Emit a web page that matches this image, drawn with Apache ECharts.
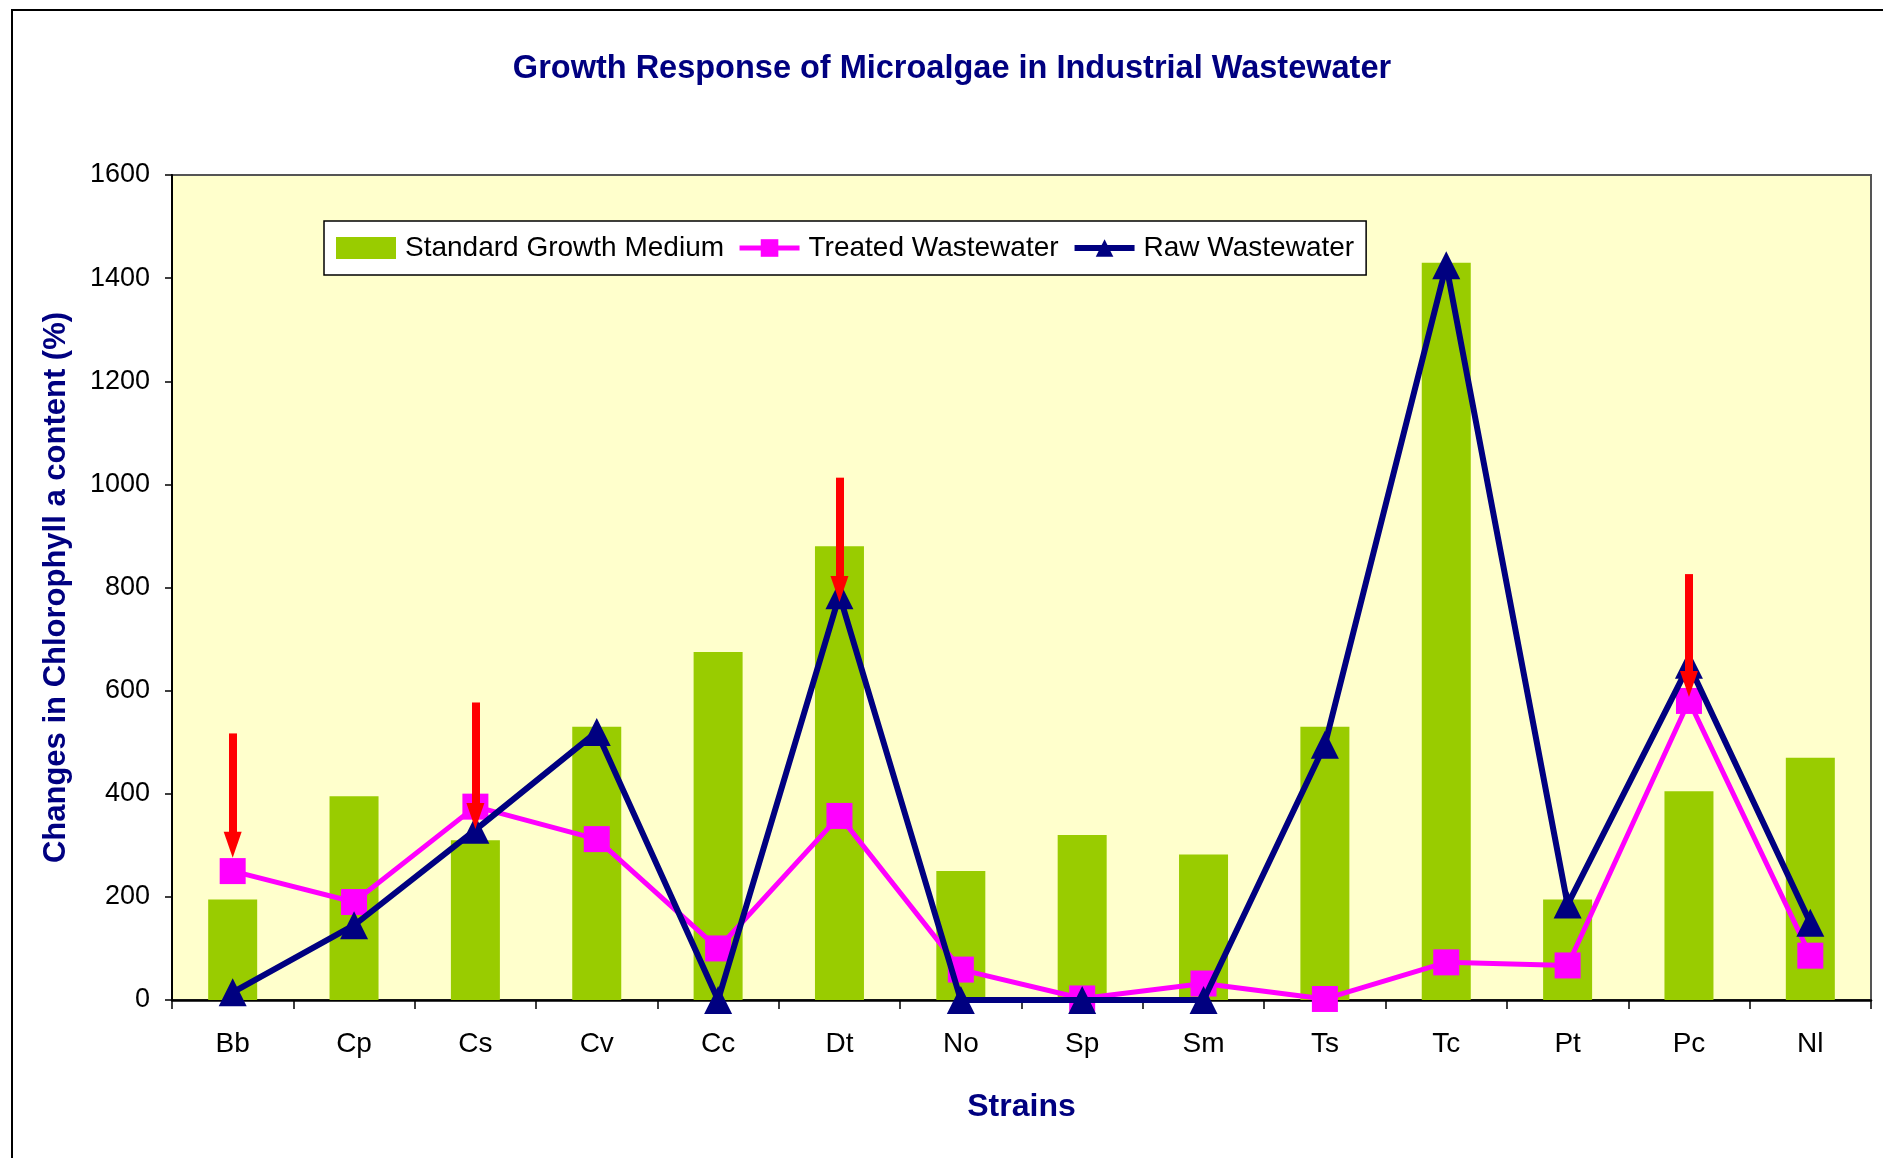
<!DOCTYPE html>
<html>
<head>
<meta charset="utf-8">
<title>Growth Response of Microalgae in Industrial Wastewater</title>
<script src="https://cdn.jsdelivr.net/npm/echarts@6/dist/echarts.min.js"></script>
<style>
  html, body { margin: 0; padding: 0; background: #fff; }
  #chart { width: 1883px; height: 1158px; }
</style>
</head>
<body>
<div id="chart"></div>
<script>
// strains on the x axis
const strains = ["Bb", "Cp", "Cs", "Cv", "Cc", "Dt", "No", "Sp", "Sm", "Ts", "Tc", "Pt", "Pc", "Nl"];

// changes in chlorophyll a content (%)
const standardMedium = [195, 395, 310, 530, 675, 880, 250, 320, 282, 530, 1430, 195, 405, 470];
const treatedWater = [250, 190, 375, 312, 100, 357, 59, 3, 32, 2, 73, 67, 580, 86];
const rawWater = [15, 145, 330, 520, 0, 785, 0, 0, 0, 495, 1425, 185, 650, 150];

// red arrows: strain, value where the arrow starts, value at its tip
const arrowStrains = ["Bb", "Cs", "Dt", "Pc"];
const arrowFrom = [517, 577, 1013, 826];
const arrowTo = [301, 357, 797, 613];

const navy = "#000080";
const font = "Liberation Sans, Arial, sans-serif";

const chart = echarts.init(document.getElementById("chart"), null, { renderer: "canvas" });

const arrowLines = arrowStrains.map((s, i) => [
  { coord: [s, arrowFrom[i]] },
  { coord: [s, arrowTo[i]] },
]);

const option = {
  animation: false,
  backgroundColor: "#fff",
  textStyle: { fontFamily: font },
  title: {
    text: "Growth Response of Microalgae in Industrial Wastewater",
    left: 947,
    top: 48,
    textAlign: "center",
    textStyle: { color: navy, fontSize: 32.5, fontWeight: "bold", fontFamily: font },
  },
  // outer chart frame, cropped on the right and bottom
  graphic: [
    {
      type: "rect",
      shape: { x: 12, y: 10, width: 1900, height: 1200 },
      style: { fill: "none", stroke: "#000", lineWidth: 2 },
      silent: true,
    },
  ],
  legend: {
    data: [
      { name: "Standard Growth Medium", icon: "rect" },
      { name: "Treated Wastewater", lineStyle: { width: 5 } },
      { name: "Raw Wastewater", lineStyle: { width: 6 } },
    ],
    left: 324,
    top: 221,
    orient: "horizontal",
    padding: [13, 12, 13, 12],
    itemGap: 13,
    itemWidth: 60,
    itemHeight: 22,
    backgroundColor: "#fff",
    borderColor: "#000",
    borderWidth: 1.5,
    textStyle: { color: "#000", fontSize: 28, fontFamily: font, padding: [0, 0, 0, 4] },
  },
  grid: {
    left: 172,
    right: 12,
    top: 175,
    bottom: 158,
    show: true,
    backgroundColor: "#FFFFCC",
    borderColor: "#555",
    borderWidth: 2,
  },
  xAxis: {
    type: "category",
    data: strains,
    name: "Strains",
    nameLocation: "middle",
    nameGap: 91,
    nameTextStyle: { color: navy, fontSize: 32, fontWeight: "bold", fontFamily: font },
    axisLine: { lineStyle: { color: "#000", width: 2.5 } },
    axisTick: { show: true, length: 9, interval: 0, lineStyle: { color: "#000", width: 1.5 } },
    axisLabel: { color: "#000", fontSize: 28, margin: 30, interval: 0, fontFamily: font },
  },
  yAxis: {
    type: "value",
    min: 0,
    max: 1600,
    interval: 200,
    name: "Changes in Chlorophyll a content (%)",
    nameLocation: "middle",
    nameGap: 100,
    nameTextStyle: { color: navy, fontSize: 31, fontWeight: "bold", fontFamily: font },
    axisLine: { show: true, lineStyle: { color: "#000", width: 2 } },
    axisTick: { show: true, length: 7, lineStyle: { color: "#000", width: 1.5 } },
    axisLabel: { color: "#000", fontSize: 27, margin: 22, fontFamily: font, formatter: (v) => String(v) },
    splitLine: { show: false },
  },
  series: [
    {
      name: "Standard Growth Medium",
      type: "bar",
      data: standardMedium,
      barWidth: 49,
      itemStyle: { color: "#99CC00" },
      z: 2,
    },
    {
      name: "Treated Wastewater",
      type: "line",
      data: treatedWater,
      symbol: "rect",
      symbolSize: 26,
      showAllSymbol: true,
      lineStyle: { color: "#FF00FF", width: 5 },
      itemStyle: { color: "#FF00FF" },
      z: 3,
    },
    {
      name: "Raw Wastewater",
      type: "line",
      data: rawWater,
      symbol: "triangle",
      symbolSize: 28,
      showAllSymbol: true,
      lineStyle: { color: navy, width: 6 },
      itemStyle: { color: navy },
      z: 4,
    },
    {
      name: "arrows",
      type: "line",
      data: [],
      z: 10,
      markLine: {
        silent: true,
        symbol: ["none", "triangle"],
        symbolSize: [18, 26],
        label: { show: false },
        lineStyle: { color: "#FF0000", width: 8, type: "solid" },
        data: arrowLines,
      },
    },
  ],
};

chart.setOption(option);
</script>
</body>
</html>
